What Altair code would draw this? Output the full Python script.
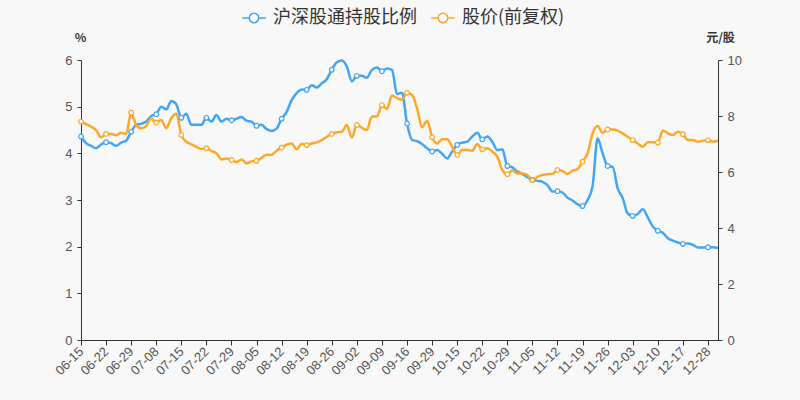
import json
import altair as alt
import pandas as pd

# ---- data ----
tick_labels = ["06-15", "06-22", "06-29", "07-08", "07-15", "07-22", "07-29", "08-05",
               "08-12", "08-19", "08-26", "09-02", "09-09", "09-16", "09-29", "10-15",
               "10-22", "10-29", "11-05", "11-12", "11-19", "11-26", "12-03", "12-10",
               "12-17", "12-28"]

hold_ratio = [4.36, 4.22, 4.16, 4.11, 4.19, 4.24, 4.22, 4.16, 4.23, 4.27,
              4.46, 4.61, 4.63, 4.68, 4.80, 4.84, 5.00, 4.94, 5.12, 5.05,
              4.76, 4.85, 4.61, 4.61, 4.61, 4.76, 4.68, 4.82, 4.68, 4.74,
              4.71, 4.74, 4.78, 4.70, 4.68, 4.59, 4.61, 4.52, 4.48, 4.53,
              4.74, 4.89, 5.14, 5.29, 5.37, 5.36, 5.46, 5.41, 5.50, 5.59,
              5.79, 5.95, 5.99, 5.86, 5.54, 5.66, 5.66, 5.62, 5.79, 5.84,
              5.76, 5.82, 5.79, 5.27, 5.30, 4.64, 4.29, 4.26, 4.20, 4.11,
              4.04, 4.07, 3.99, 3.89, 4.04, 4.18, 4.23, 4.25, 4.36, 4.44,
              4.30, 4.36, 4.25, 4.07, 4.09, 3.73, 3.70, 3.61, 3.56, 3.49,
              3.43, 3.41, 3.39, 3.32, 3.18, 3.19, 3.16, 3.05, 2.99, 2.91,
              2.87, 3.00, 3.30, 4.32, 4.00, 3.73, 3.71, 3.25, 3.04, 2.71,
              2.66, 2.70, 2.80, 2.63, 2.43, 2.34, 2.30, 2.18, 2.13, 2.09,
              2.06, 2.07, 2.04, 1.98, 1.98, 1.99, 1.99, 1.97]

price = [7.80, 7.71, 7.62, 7.50, 7.24, 7.36, 7.36, 7.32, 7.40, 7.36,
         8.12, 7.68, 7.56, 7.64, 7.92, 7.76, 7.86, 7.56, 7.92, 8.08,
         7.32, 7.08, 6.99, 6.90, 6.82, 6.85, 6.75, 6.67, 6.45, 6.48,
         6.43, 6.36, 6.45, 6.31, 6.38, 6.40, 6.51, 6.62, 6.62, 6.76,
         6.87, 6.98, 7.02, 6.81, 7.01, 6.96, 7.02, 7.06, 7.14, 7.26,
         7.36, 7.42, 7.44, 7.68, 7.23, 7.68, 7.58, 7.50, 7.98, 7.98,
         8.39, 8.25, 8.73, 8.64, 8.58, 8.83, 8.75, 8.27, 7.60, 7.83,
         7.24, 7.02, 7.17, 7.17, 6.90, 6.61, 6.79, 6.79, 6.76, 7.00,
         6.81, 6.85, 6.73, 6.55, 6.07, 5.92, 6.05, 5.95, 5.95, 5.89,
         5.71, 5.83, 5.89, 5.92, 5.93, 6.07, 6.04, 5.93, 6.05, 6.11,
         6.37, 6.67, 7.38, 7.64, 7.40, 7.52, 7.52, 7.48, 7.38, 7.26,
         7.14, 7.02, 6.90, 7.06, 7.06, 7.05, 7.48, 7.38, 7.32, 7.44,
         7.35, 7.14, 7.14, 7.08, 7.12, 7.14, 7.08, 7.12]

series_names = ["沪深股通持股比例", "股价(前复权)"]
colors = ["#42a5f5", "#ffa726"]
label_step = 5

n = len(hold_ratio)
df = pd.DataFrame({
    "idx": list(range(n)) * 2,
    "series": [series_names[0]] * n + [series_names[1]] * n,
    "value": hold_ratio + price,
})

BG = "#f8f8f8"
NUM_FONT = "Liberation Sans"
CJK_FONT = "Noto Sans CJK SC"

label_expr = json.dumps(tick_labels) + "[round(datum.value/%d)]" % label_step

x_enc = alt.X(
    "idx:Q",
    scale=alt.Scale(domain=[0, n - 1], nice=False, zero=False),
    axis=alt.Axis(
        title=None, values=list(range(0, label_step * len(tick_labels), label_step)),
        labelExpr=label_expr, labelAngle=-45, labelAlign="right", labelBaseline="middle",
        labelFontSize=13, labelFont=NUM_FONT, labelColor="#555", labelPadding=4,
        tickSize=5, tickColor="#333", domainColor="#333", grid=False, labelOverlap=False,
        labelFlush=False,
    ),
)

color_enc = alt.Color(
    "series:N",
    scale=alt.Scale(domain=series_names, range=colors),
    legend=alt.Legend(
        title=None, orient="none", direction="horizontal", legendX=160, legendY=-55,
        symbolType="M-1,0L-0.4,0M0.4,0L1,0M-0.4,0A0.4,0.4,0,1,0,0.4,0A0.4,0.4,0,1,0,-0.4,0Z",
        symbolSize=560, symbolStrokeWidth=1.5, symbolFillColor="#ffffff", symbolOpacity=1,
        labelFontSize=18, labelFont=CJK_FONT, labelColor="#333", labelOffset=6,
        columnPadding=11, padding=0, labelLimit=300,
    ),
)

left_scale = alt.Scale(domain=[0, 6], nice=False, zero=True)
right_scale = alt.Scale(domain=[0, 10], nice=False, zero=True)

base = alt.Chart(df)

blue_line = base.transform_filter(alt.datum.series == series_names[0]).mark_line(
    strokeWidth=2.5, interpolate="monotone"
).encode(
    x=x_enc,
    y=alt.Y("value:Q", scale=left_scale, axis=alt.Axis(
        title="%", orient="left", values=[0, 1, 2, 3, 4, 5, 6], grid=False,
        titleAngle=0, titleX=-1, titleY=-23, titleAlign="center", titleBaseline="middle",
        titleFontSize=12, titleFont=CJK_FONT, titleColor="#333", titleFontWeight="bold",
        labelFontSize=13, labelFont=NUM_FONT, labelColor="#555", labelPadding=5,
        tickSize=4, tickColor="#333", domainColor="#333")),
    color=color_enc,
)

orange_line = base.transform_filter(alt.datum.series == series_names[1]).mark_line(
    strokeWidth=2.5, interpolate="monotone"
).encode(
    x=x_enc,
    y=alt.Y("value:Q", scale=right_scale, axis=alt.Axis(
        title="元/股", orient="right", values=[0, 2, 4, 6, 8, 10], grid=False,
        titleAngle=0, titleX=2, titleY=-23, titleAlign="center", titleBaseline="middle",
        titleFontSize=12, titleFont=CJK_FONT, titleColor="#333", titleFontWeight="bold",
        labelFontSize=13, labelFont=NUM_FONT, labelColor="#555", labelPadding=5,
        tickSize=4, tickColor="#333", domainColor="#333")),
    color=color_enc,
)

blue_pts = base.transform_filter(alt.datum.series == series_names[0]).transform_filter(
    "datum.idx % 5 == 0").mark_circle(
    size=22, fill="#ffffff", stroke=colors[0], strokeWidth=1.2, opacity=1
).encode(x=x_enc, y=alt.Y("value:Q", scale=left_scale, axis=None))

orange_pts = base.transform_filter(alt.datum.series == series_names[1]).transform_filter(
    "datum.idx % 5 == 0").mark_circle(
    size=22, fill="#ffffff", stroke=colors[1], strokeWidth=1.2, opacity=1
).encode(x=x_enc, y=alt.Y("value:Q", scale=right_scale, axis=None))

chart = alt.layer(blue_line, orange_line, blue_pts, orange_pts).resolve_scale(
    y="independent"
).properties(
    width=637, height=280,
    autosize=alt.AutoSizeParams(type="none"),
    padding={"left": 81, "top": 60, "right": 82, "bottom": 60},
    background=BG,
).configure_view(stroke=None)

chart.save("out.html", embed_options={"renderer": "svg", "actions": False})
